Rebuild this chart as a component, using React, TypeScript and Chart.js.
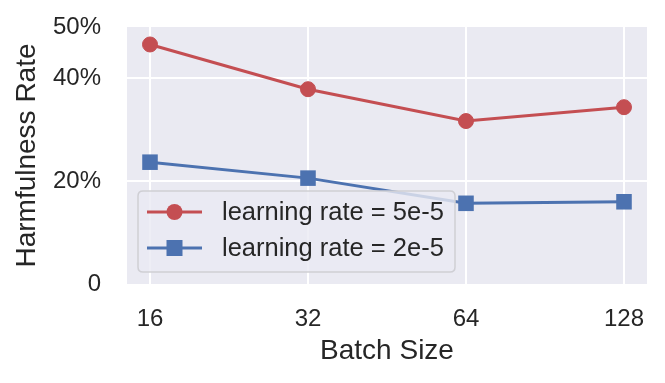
import React, { useEffect, useRef } from "react";
import { Chart, registerables } from "chart.js";

Chart.register(...registerables);

const batchSizes = [16, 32, 64, 128];
const lr5e5 = [46.6, 37.9, 31.7, 34.4];
const lr2e5 = [23.7, 20.6, 15.7, 16.0];
const yTicks = [0, 20, 40, 50];
const seriesLabels = ["learning rate = 5e-5", "learning rate = 2e-5"];

const RED = "#C44E52";
const BLUE = "#4C72B0";
const FONT = "'Liberation Sans', Arial, Helvetica, sans-serif";
const TEXT = "#262626";

const bgPlugin = {
  id: "bgPlugin",
  beforeDraw(chart: any) {
    const { ctx, chartArea } = chart;
    ctx.save();
    ctx.fillStyle = "#EAEAF2";
    ctx.fillRect(chartArea.left, chartArea.top, chartArea.right - chartArea.left, chartArea.bottom - chartArea.top);
    ctx.restore();
  },
};

const legendPlugin = {
  id: "insideLegend",
  afterDatasetsDraw(chart: any) {
    const { ctx, chartArea } = chart;
    const x = chartArea.left + 11;
    const w = 317;
    const h = 81;
    const y = chartArea.bottom - 12 - h;
    ctx.save();
    ctx.beginPath();
    const r = 5;
    ctx.moveTo(x + r, y);
    ctx.lineTo(x + w - r, y);
    ctx.quadraticCurveTo(x + w, y, x + w, y + r);
    ctx.lineTo(x + w, y + h - r);
    ctx.quadraticCurveTo(x + w, y + h, x + w - r, y + h);
    ctx.lineTo(x + r, y + h);
    ctx.quadraticCurveTo(x, y + h, x, y + h - r);
    ctx.lineTo(x, y + r);
    ctx.quadraticCurveTo(x, y, x + r, y);
    ctx.closePath();
    ctx.fillStyle = "rgba(234,234,242,0.8)";
    ctx.fill();
    ctx.strokeStyle = "#CFCFD4";
    ctx.lineWidth = 1.5;
    ctx.stroke();

    const rows = [
      { color: RED, style: "circle", label: seriesLabels[0], cy: y + 21 },
      { color: BLUE, style: "rect", label: seriesLabels[1], cy: y + 57 },
    ];
    rows.forEach((row) => {
      ctx.strokeStyle = row.color;
      ctx.lineWidth = 3;
      ctx.beginPath();
      ctx.moveTo(x + 9, row.cy);
      ctx.lineTo(x + 64, row.cy);
      ctx.stroke();
      ctx.fillStyle = row.color;
      const mx = x + 36.5;
      if (row.style === "circle") {
        ctx.beginPath();
        ctx.arc(mx, row.cy, 8, 0, Math.PI * 2);
        ctx.fill();
      } else {
        ctx.fillRect(mx - 8, row.cy - 8, 16, 16);
      }
      ctx.fillStyle = TEXT;
      ctx.font = `25.5px ${FONT}`;
      ctx.textBaseline = "middle";
      ctx.textAlign = "left";
      ctx.fillText(row.label, x + 84, row.cy + 1);
    });
    ctx.restore();
  },
};

export default function App() {
  const ref = useRef<HTMLCanvasElement | null>(null);

  useEffect(() => {
    document.body.style.margin = "0";
    const canvas = ref.current;
    if (!canvas) return;
    const chart = new Chart(canvas, {
      type: "line",
      data: {
        datasets: [
          {
            label: seriesLabels[0],
            data: batchSizes.map((b, i) => ({ x: b, y: lr5e5[i] })),
            borderColor: RED,
            backgroundColor: RED,
            pointBackgroundColor: RED,
            pointBorderColor: RED,
            borderWidth: 3,
            pointRadius: 7.5,
            pointBorderWidth: 1,
            pointStyle: "circle",
          },
          {
            label: seriesLabels[1],
            data: batchSizes.map((b, i) => ({ x: b, y: lr2e5[i] })),
            borderColor: BLUE,
            backgroundColor: BLUE,
            pointBackgroundColor: BLUE,
            pointBorderColor: BLUE,
            borderWidth: 3,
            pointRadius: 11,
            pointBorderWidth: 0,
            pointStyle: "rect",
          },
        ],
      },
      options: {
        animation: false,
        responsive: false,
        maintainAspectRatio: false,
        layout: { padding: { top: 27, right: 18, left: 0, bottom: 0 } },
        plugins: {
          legend: { display: false },
          tooltip: { enabled: false },
        },
        scales: {
          x: {
            type: "logarithmic",
            min: 16 / Math.pow(2, 0.1456),
            max: 128 * Math.pow(2, 0.1456),
            border: { display: false },
            grid: { color: "#FFFFFF", lineWidth: 2, drawTicks: false },
            ticks: {
              color: TEXT,
              font: { family: FONT, size: 24 },
              padding: 21,
              maxRotation: 0,
              autoSkip: false,
              callback: (v: any) => String(v),
            },
            afterBuildTicks: (scale: any) => {
              scale.ticks = batchSizes.map((v) => ({ value: v }));
            },
            afterFit: (scale: any) => {
              scale.height = 99;
              scale.paddingLeft = 0;
              scale.paddingRight = 0;
              scale.paddingTop = 0;
              scale.paddingBottom = 0;
            },
            title: {
              display: true,
              text: "Batch Size",
              color: TEXT,
              font: { family: FONT, size: 28 },
              padding: { top: 0, bottom: 15 },
            },
          },
          y: {
            type: "linear",
            min: 0,
            max: 50,
            border: { display: false },
            grid: {
              color: (ctx: any) =>
                ctx.tick && (ctx.tick.value === 0 || ctx.tick.value === 50) ? "rgba(0,0,0,0)" : "#FFFFFF",
              lineWidth: 2,
              drawTicks: false,
            },
            ticks: {
              color: TEXT,
              font: { family: FONT, size: 24 },
              padding: 26,
              autoSkip: false,
              callback: (v: any) => (v === 0 ? "0" : `${v}%`),
            },
            afterBuildTicks: (scale: any) => {
              scale.ticks = yTicks.map((v) => ({ value: v }));
            },
            afterFit: (scale: any) => {
              scale.width = 127;
              scale.paddingLeft = 0;
              scale.paddingRight = 0;
              scale.paddingTop = 0;
              scale.paddingBottom = 0;
            },
            title: {
              display: true,
              text: "Harmfulness Rate",
              color: TEXT,
              font: { family: FONT, size: 28 },
              padding: { top: 10, bottom: 0 },
            },
          },
        },
      },
      plugins: [bgPlugin, legendPlugin],
    });
    return () => chart.destroy();
  }, []);

  return (
    <div style={{ position: "absolute", left: 0, top: 0, width: 665, height: 383, background: "#fff" }}>
      <canvas ref={ref} width={665} height={383} style={{ display: "block" }} />
    </div>
  );
}
